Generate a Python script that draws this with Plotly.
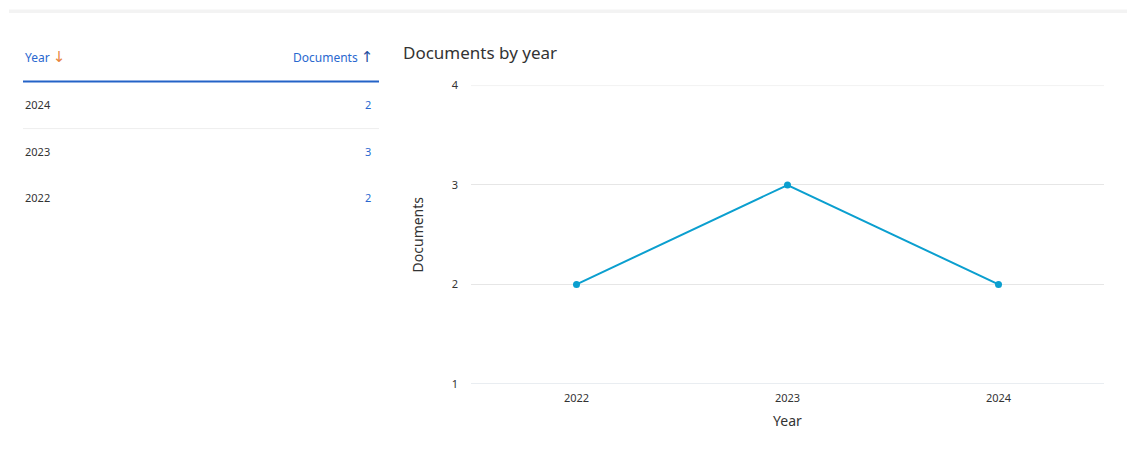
import plotly.graph_objects as go

years = ["2022", "2023", "2024"]
documents = [2, 3, 2]
table_years = ["2024", "2023", "2022"]
table_docs = [2, 3, 2]
y_ticks = [1, 2, 3, 4]

W, H = 1127, 466
# the viewer maps figure y -> 7.5 + 0.967*y ; invert so targets land where intended
VA, VS = 7.5, 0.967
def px(x): return x / W
def py(y): return 1 - ((y - VA) / VS) / H

FONT = "Noto Sans"
fig = go.Figure()
fig.add_trace(go.Scatter(
    x=years, y=documents, mode="lines+markers",
    line=dict(color="#0b9fcf", width=2),
    marker=dict(color="#0b9fcf", size=7),
    hoverinfo="x+y", showlegend=False,
))

fig.update_layout(
    width=W, height=H,
    margin=dict(l=0, r=0, t=0, b=0),
    paper_bgcolor="white", plot_bgcolor="white",
    font=dict(family=FONT, color="#333333", size=11),
    xaxis=dict(domain=[px(471), px(1104)], type="category", range=[-0.5, 2.5],
               showgrid=False, zeroline=False, showline=False, ticks="",
               ticklabelstandoff=6,
               tickfont=dict(size=11, color="#333"),
               title=dict(text="Year", font=dict(size=14, color="#333"), standoff=12)),
    yaxis=dict(domain=[py(383), py(85)], range=[1, 4], tickvals=y_ticks,
               showgrid=True, gridcolor="#e6e6e6", gridwidth=1, zeroline=False,
               showline=False, ticks="", ticklabelstandoff=12,
               tickfont=dict(size=11, color="#333"),
               title=dict(text="Documents", font=dict(size=14, color="#333"), standoff=24)),
)

shapes = [
    dict(type="rect", xref="paper", yref="paper", x0=px(9), x1=1, y0=py(12.5), y1=py(9),
         fillcolor="#f3f3f3", line=dict(width=0), layer="below"),
    dict(type="line", xref="paper", yref="paper", x0=px(23), x1=px(379), y0=py(81), y1=py(81),
         line=dict(color="#2463c7", width=2)),
    dict(type="line", xref="paper", yref="paper", x0=px(23), x1=px(379), y0=py(128), y1=py(128),
         line=dict(color="#eeeeee", width=1)),
    dict(type="line", xref="x domain", yref="y", x0=0, x1=1, y0=y_ticks[-1], y1=y_ticks[-1],
         line=dict(color="#e6e6e6", width=1), layer="below"),
    dict(type="line", xref="x domain", yref="y", x0=0, x1=1, y0=y_ticks[0], y1=y_ticks[0],
         line=dict(color="#d5dce4", width=1)),
]
fig.update_layout(shapes=shapes)

def A(text, x, y, xanchor, size, color):
    return dict(text=text, x=px(x), y=py(y), xref="paper", yref="paper",
                xanchor=xanchor, yanchor="middle", showarrow=False,
                font=dict(size=size, color=color))

ann = [
    A("Documents by year", 401, 52, "left", 17, "#333"),
    A("Year <span style='color:#e8843f;font-size:15px;font-family:DejaVu Sans'>↓</span>", 23, 56, "left", 12, "#2a68cf"),
    A("Documents <span style='color:#1f4f9f;font-size:15px;font-family:DejaVu Sans'>↑</span>", 375, 56, "right", 12, "#2a68cf"),
]
row_y = [104, 151, 197]
for yr, d, ry in zip(table_years, table_docs, row_y):
    ann.append(A(yr, 23, ry, "left", 11, "#333"))
    ann.append(A(str(d), 373, ry, "right", 11, "#2a68cf"))
fig.update_layout(annotations=ann)

fig.write_html("out.html")
